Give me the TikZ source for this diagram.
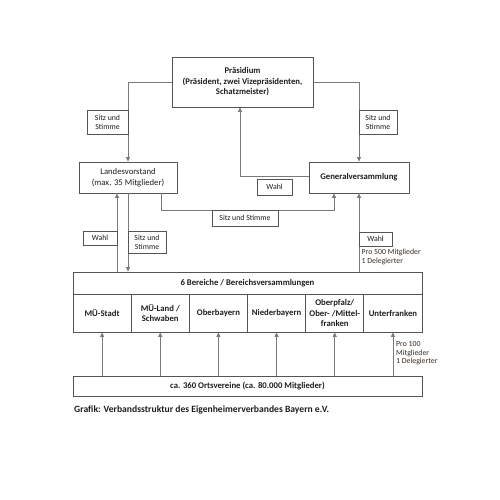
\documentclass[tikz,border=0pt]{standalone}
\usepackage{fontspec}
\setmainfont{Carlito}
\usetikzlibrary{arrows.meta,calc}
\definecolor{linec}{HTML}{7A7A7A}
\definecolor{boxc}{HTML}{555555}
\definecolor{txtc}{HTML}{1E1E1E}
\definecolor{notec}{HTML}{3A2C22}
\begin{document}
\begin{tikzpicture}[x=1pt,y=-1pt,
  box/.style={draw=boxc,line width=0.8pt,fill=white,align=center,inner sep=0pt,text=txtc,
    font=\fontsize{8.7}{10.5}\selectfont\bfseries},
  lab/.style={draw=boxc,line width=0.7pt,fill=white,align=center,inner sep=0pt,text=txtc,
    font=\fontsize{7.8}{9.2}\selectfont},
  note/.style={align=left,inner sep=0pt,text=notec,font=\fontsize{7.8}{8.8}\selectfont},
  conn/.style={draw=linec,line width=0.8pt},
  arr/.style={conn,-{Triangle[length=4.5pt,width=4pt]}}]
\useasboundingbox[fill=white] (0,0) rectangle (500,500);

% main boxes
\node[box,minimum width=141pt,minimum height=50pt] (praes) at (242.5,82)
  {Präsidium\\(Präsident, zwei Vizepräsidenten,\\Schatzmeister)};
\node[box,minimum width=98pt,minimum height=31pt] (lv) at (128,177.5)
  {\mdseries Landesvorstand\\\mdseries(max. 35 Mitglieder)};
\node[box,minimum width=100pt,minimum height=31pt] (gv) at (359,177.5)
  {Generalversammlung};

% Bereiche
\node[box,minimum width=349pt,minimum height=22pt] (ber) at (247.5,283)
  {6 Bereiche / Bereichsversammlungen};
\node[box,minimum width=58.17pt,minimum height=38pt] (c1) at (102.08,313) {MÜ-Stadt};
\node[box,minimum width=58.17pt,minimum height=38pt] (c2) at (160.25,313) {MÜ-Land /\\Schwaben};
\node[box,minimum width=58.17pt,minimum height=38pt] (c3) at (218.42,313) {Oberbayern};
\node[box,minimum width=58.17pt,minimum height=38pt] (c4) at (276.58,313) {Niederbayern};
\node[box,minimum width=58.17pt,minimum height=38pt] (c5) at (334.75,313) {Oberpfalz/\\Ober- /Mittel-\\franken};
\node[box,minimum width=58.17pt,minimum height=38pt] (c6) at (392.92,313) {Unterfranken};

\node[box,minimum width=349pt,minimum height=20pt] (ov) at (247.5,386)
  {ca. 360 Ortsvereine (ca. 80.000 Mitglieder)};

% connectors
\draw[arr] (praes.west) -| (lv.north);
\draw[arr] (praes.east) -| (gv.north);
\coordinate (pw) at ([xshift=-2.5pt]praes.south);
\coordinate (gw) at ([yshift=1.5pt]gv.west);
\draw[arr] (gw) -| (pw);
\coordinate (s1) at ([xshift=33pt]lv.south);
\coordinate (s2) at ([xshift=-25pt]gv.south);
\draw[arr] (s1) -- ++(0,17) -| (s2);
\coordinate (lvw) at ([xshift=-11pt]lv.south);
\draw[arr] (lvw |- ber.north) -- (lvw);
\draw[arr] (lv.south) -- (lv.south |- ber.north);
\draw[arr] (gv.south |- ber.north) -- (gv.south);
\foreach \c in {c1,c2,c3,c4,c5,c6}
  \draw[arr] (\c.south |- ov.north) -- (\c.south);

% labels
\node[lab,minimum width=41pt,minimum height=24pt] (l1) at (107.5,122) {Sitz und\\Stimme};
\node[lab,minimum width=38pt,minimum height=24pt] (l2) at (378,122) {Sitz und\\Stimme};
\node[lab,minimum width=35pt,minimum height=16pt] (l3) at (274.5,187) {Wahl};
\node[lab,minimum width=66pt,minimum height=16pt] (l4) at (245,218) {Sitz und Stimme};
\node[lab,minimum width=34pt,minimum height=14pt] (l5) at (100,238) {Wahl};
\node[lab,minimum width=38pt,minimum height=22pt] (l6) at (147,242) {Sitz und\\Stimme};
\node[lab,minimum width=33pt,minimum height=14pt] (l7) at (375.5,239) {Wahl};

\node[note,anchor=north west] (n1) at (361.5,249) {Pro 500 Mitglieder\\1 Delegierter};
\node[note,anchor=north west] (n2) at (396,341) {Pro 100\\Mitglieder\\1 Delegierter};

\node[anchor=base west,inner sep=0pt,text=txtc,font=\fontsize{9.6}{11}\selectfont\bfseries] (cap)
  at (74,412) {Grafik: Verbandsstruktur des Eigenheimerverbandes Bayern e.V.};
\end{tikzpicture}
\end{document}
